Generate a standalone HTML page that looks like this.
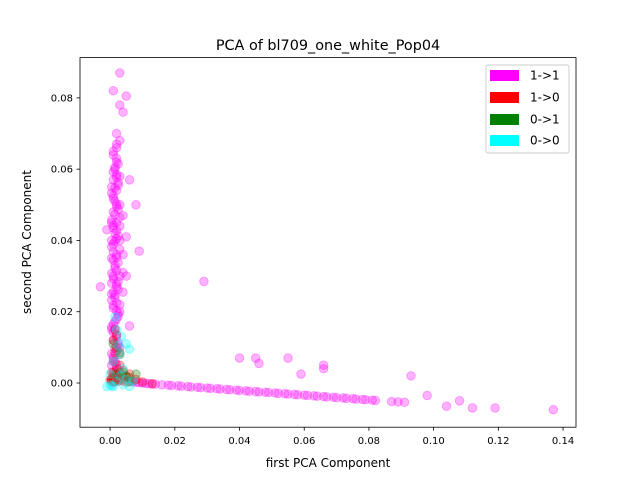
<!DOCTYPE html>
<html><head><meta charset="utf-8"><style>
body{margin:0;background:#fff}
svg text{font-family:"DejaVu Sans","Liberation Sans",sans-serif;fill:#000}
</style></head><body>
<svg id="chart" width="640" height="480" viewBox="0 0 640 480" xmlns="http://www.w3.org/2000/svg">
<rect width="640" height="480" fill="#fff"/>
<text x="328" y="50" font-size="14.4" text-anchor="middle">PCA of bl709_one_white_Pop04</text>
<g id="marks"></g>
<g id="axes"></g>
<text x="328" y="467" font-size="12" text-anchor="middle">first PCA Component</text>
<text transform="translate(31,242) rotate(-90)" font-size="12" text-anchor="middle">second PCA Component</text>
<g>
<rect x="486" y="65" width="83" height="88" rx="2" fill="#fff" fill-opacity="0.8" stroke="#ccc"/>
<rect x="490" y="70" width="29" height="11" fill="#ff00ff"/>
<text x="530" y="79.5" font-size="12">1-&gt;1</text>
<rect x="490" y="92" width="29" height="11" fill="#ff0000"/>
<text x="530" y="101.5" font-size="12">1-&gt;0</text>
<rect x="490" y="114" width="29" height="11" fill="#008000"/>
<text x="530" y="123.5" font-size="12">0-&gt;1</text>
<rect x="490" y="135" width="29" height="11" fill="#00ffff"/>
<text x="530" y="144.5" font-size="12">0-&gt;0</text>
</g>
</svg>
<script>
const xTicks=[0,0.02,0.04,0.06,0.08,0.10,0.12,0.14];
const xTickLabels=["0.00","0.02","0.04","0.06","0.08","0.10","0.12","0.14"];
const yTicks=[0,0.02,0.04,0.06,0.08];
const yTickLabels=["0.00","0.02","0.04","0.06","0.08"];
// series 1->1 (magenta) — dense column
const colX=[0.001,0.002,0.001,0.002,0.0015,0.001,0.002,0.0025,0.001,0.002,0.0015,0.001,0.002,0.0025,0.001,0.002,0.0015,0.001,0.002,0.0025,0.001,0.002,0.0015,0.001,0.002,0.003,0.001,0.002,0.0015,0.001,0.002,0.003,0.001,0.002,0.0015,0.001,0.002,0.0025,0.001,0.002,0.0015,0.002,0.001,0.002,0.003,
0.0005,0.0015,0.0025,0.002,0.001,0.0005,0.0015,0.0025,0.002,0.001,0.0005,0.0015,0.0025,0.002,0.001,0.0005,0.0015,0.0025,0.002,0.001,0.0005,0.0015,0.0025,0.002,0.001,0.0005,0.0015,0.0025,0.002,0.001,0.0005,0.0015,0.0025,0.002,0.001,0.0005,0.0015,0.0025,0.002,0.001,0.0015,0.0025,0.002,0.001,0.002,
0.0005,0.003,0.0005,0.003,0.0005,0.003,0.0005,0.003,0.0005,0.003,0.0005,0.003,0.0005,0.003,0.0005,0.003,0.004,0.004,0.004,0.005];
const colY=[0.000,0.0015,0.003,0.0045,0.006,0.0075,0.009,0.0105,0.012,0.0135,0.015,0.0165,0.018,0.0195,0.021,0.0225,0.024,0.0255,0.027,0.0285,0.030,0.0315,0.033,0.0345,0.036,0.0375,0.039,0.0405,0.042,0.0435,0.045,0.0465,0.048,0.0495,0.051,0.0525,0.054,0.0555,0.057,0.0585,0.060,0.062,0.064,0.066,0.068,
0.00075,0.00225,0.00375,0.00525,0.00675,0.00825,0.00975,0.01125,0.01275,0.01425,0.01575,0.01725,0.01875,0.02025,0.02175,0.02325,0.02475,0.02625,0.02775,0.02925,0.03075,0.03225,0.03375,0.03525,0.03675,0.03825,0.03975,0.04125,0.04275,0.04425,0.04575,0.04725,0.04875,0.05025,0.05175,0.05325,0.05475,0.05625,0.05775,0.05925,0.0605,0.0615,0.063,0.065,0.067,
0.005,0.010,0.015,0.020,0.025,0.030,0.035,0.040,0.045,0.050,0.055,0.058,0.040,0.044,0.028,0.022,0.031,0.036,0.047,0.041];
// series 1->1 (magenta) — outliers and tail
const magX=[0.003,0.001,0.005,0.003,0.004,0.002,0.006,0.008,0.009,0.029,-0.003,-0.001,0.004,0.005,0.006,
0.007,0.008,0.009,0.010,0.011,0.012,0.013,0.014,0.016,0.018,0.019,0.021,0.022,0.024,0.025,0.027,0.028,0.030,0.031,0.033,0.034,0.036,0.037,0.039,0.040,0.042,0.043,0.045,0.046,0.048,0.049,0.051,0.052,0.054,0.055,0.057,0.058,0.060,0.061,0.063,0.064,0.066,0.067,0.069,0.070,0.072,0.073,0.075,0.076,0.078,0.079,0.081,0.082,0.087,0.089,0.091,
0.040,0.045,0.046,0.055,0.066,0.066,0.059,0.093,0.098,0.104,0.108,0.112,0.119,0.137];
const magY=[0.087,0.082,0.0805,0.078,0.076,0.070,0.057,0.050,0.037,0.0285,0.027,0.043,0.0255,0.030,0.016,
0.0003,0.0002,0.0001,0.0,-0.0001,-0.0002,-0.0003,-0.0003,-0.0005,-0.0006,-0.0007,-0.0008,-0.0009,-0.001,-0.0011,-0.0012,-0.0013,-0.0014,-0.0015,-0.0016,-0.0017,-0.0018,-0.0019,-0.002,-0.0021,-0.0022,-0.0023,-0.0024,-0.0025,-0.0026,-0.0027,-0.0028,-0.0029,-0.003,-0.0031,-0.0032,-0.0033,-0.0034,-0.0035,-0.0036,-0.0037,-0.0038,-0.0039,-0.004,-0.0041,-0.0042,-0.0043,-0.0044,-0.0045,-0.0046,-0.0047,-0.0048,-0.0049,-0.0052,-0.0053,-0.0054,
0.007,0.007,0.0055,0.007,0.005,0.004,0.0025,0.002,-0.0035,-0.0065,-0.005,-0.007,-0.007,-0.0075];
// series 1->0 (red)
const redX=[0.0005,0.001,0.0015,0.002,0.001,0.0025,0.003,0.004,0.005,0.006,0.007,0.002,0.001,0.003,0.002,0.001,0.002,0.0015,0.003,0.004,0.0005,0.0015,0.006,0.008,0.010,0.013,0.001,
0.0,0.0005,0.001,0.0015,0.002,0.0005,0.001,0.0015,0.002,0.001,0.0005,0.0015,0.001,0.003,0.0025,0.0035,0.0045,0.0055,0.005];
const redY=[0.001,0.0005,0.0012,0.0008,0.0015,0.002,0.003,0.002,0.001,0.0015,0.0005,0.004,0.006,0.008,0.010,0.012,0.0135,0.015,0.005,0.0035,0.003,0.0085,0.0025,0.001,0.0003,-0.0002,0.0025,
0.0008,0.0008,0.0008,0.0008,0.0008,0.0012,0.0012,0.0012,0.0012,0.0004,0.0004,0.0004,0.0016,0.0012,0.0005,0.0008,0.0004,0.0003,0.0018];
// series 0->1 (green)
const grnX=[0.002,0.004,0.006,0.008,0.003,0.001,0.005];
const grnY=[0.0025,0.003,0.0005,0.0025,0.0085,0.011,0.002];
// series 0->0 (cyan)
const cyaX=[-0.001,0.0005,0.002,0.003,0.005,0.006,0.004,0.001,0.003,0.002,0.005,0.006,0.0035,0.0025,0.0,0.0015,0.007,0.004,0.0,0.001];
const cyaY=[-0.001,-0.0008,0.0005,0.002,0.001,-0.001,0.004,0.006,0.008,0.015,0.011,0.0095,0.013,0.0105,0.0025,0.0185,0.0005,-0.0005,-0.0005,-0.001];

const L=80,R=576,T=57.6,B=427.2;
const X0=-0.0093,X1=0.1440,Y0=-0.0124,Y1=0.0913;
const sx=v=>L+(v-X0)/(X1-X0)*(R-L);
const sy=v=>B-(v-Y0)/(Y1-Y0)*(B-T);
const NS="http://www.w3.org/2000/svg";
const marks=document.getElementById('marks');
function drawSeries(xs,ys,color,name){
  const g=document.createElementNS(NS,'g');
  
  
  for(let i=0;i<xs.length;i++){
    const c=document.createElementNS(NS,'circle');
    
    
    c.setAttribute('cx',sx(xs[i]));c.setAttribute('cy',sy(ys[i]));c.setAttribute('r',4.3);
    c.setAttribute('fill',color);c.setAttribute('fill-opacity',0.3);
    c.setAttribute('stroke',color);c.setAttribute('stroke-opacity',0.3);
    g.appendChild(c);
  }
  marks.appendChild(g);
}
drawSeries(colX,colY,'#ff00ff','series-1-1-column');
drawSeries(magX,magY,'#ff00ff','series-1-1');
drawSeries(redX,redY,'#ff0000','series-1-0');
drawSeries(grnX,grnY,'#008000','series-0-1');
drawSeries(cyaX,cyaY,'#00ffff','series-0-0');

const axes=document.getElementById('axes');
const frame=document.createElementNS(NS,'rect');


frame.setAttribute('x',L);frame.setAttribute('y',T);frame.setAttribute('width',R-L);frame.setAttribute('height',B-T);
frame.setAttribute('fill','none');frame.setAttribute('stroke','#000');frame.setAttribute('stroke-width','0.8');
axes.appendChild(frame);
xTicks.forEach((v,i)=>{
  const x=sx(v);
  const t=document.createElementNS(NS,'line');
  
  
  t.setAttribute('x1',x);t.setAttribute('x2',x);t.setAttribute('y1',B);t.setAttribute('y2',B+3.5);t.setAttribute('stroke','#000');t.setAttribute('stroke-width','0.8');
  axes.appendChild(t);
  const s=document.createElementNS(NS,'text');
  
  
  s.setAttribute('x',x);s.setAttribute('y',B+17);s.setAttribute('font-size','10');s.setAttribute('text-anchor','middle');
  s.textContent=xTickLabels[i];axes.appendChild(s);
});
yTicks.forEach((v,i)=>{
  const y=sy(v);
  const t=document.createElementNS(NS,'line');
  
  
  t.setAttribute('x1',L-3.5);t.setAttribute('x2',L);t.setAttribute('y1',y);t.setAttribute('y2',y);t.setAttribute('stroke','#000');t.setAttribute('stroke-width','0.8');
  axes.appendChild(t);
  const s=document.createElementNS(NS,'text');
  
  
  s.setAttribute('x',L-7);s.setAttribute('y',y+3.5);s.setAttribute('font-size','10');s.setAttribute('text-anchor','end');
  s.textContent=yTickLabels[i];axes.appendChild(s);
});
</script>
</body></html>
